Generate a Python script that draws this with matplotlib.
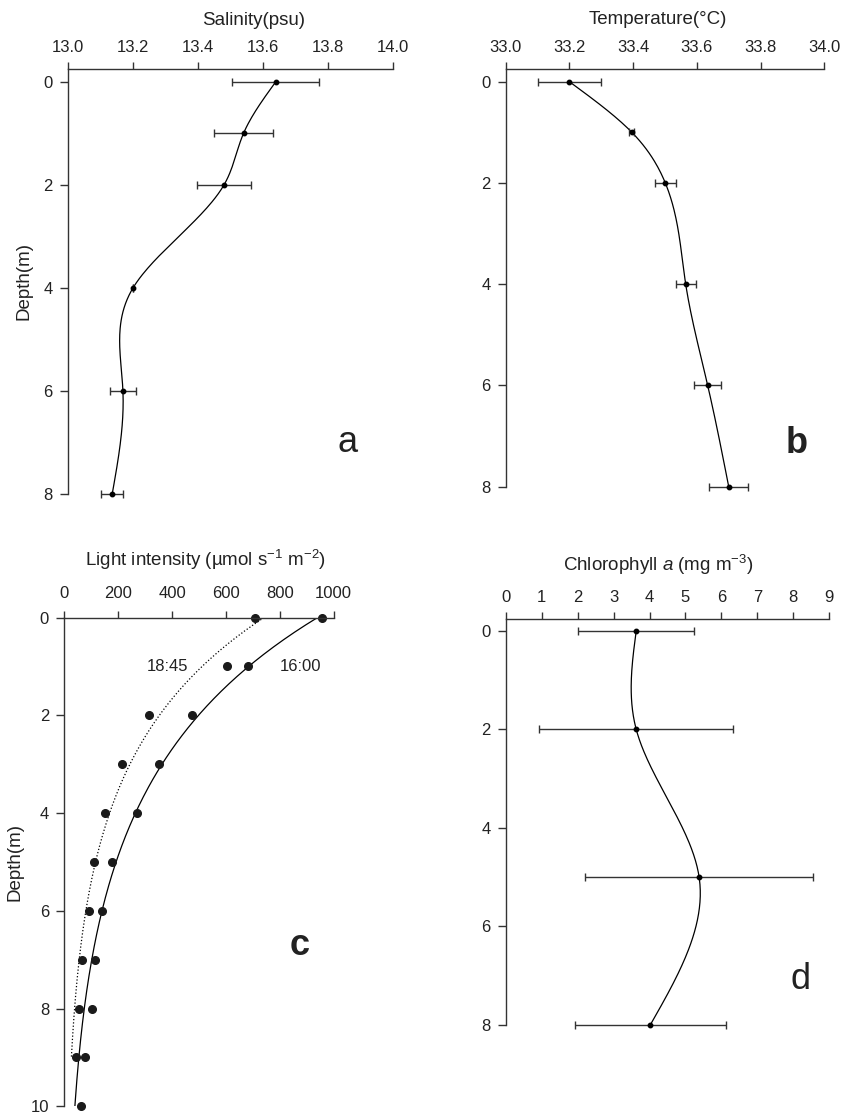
"""Depth profiles: salinity, temperature, light intensity and chlorophyll a."""

import numpy as np
import matplotlib
matplotlib.use("Agg")
import matplotlib.pyplot as plt

plt.rcParams["font.family"] = ["Liberation Sans", "DejaVu Sans"]
plt.rcParams["mathtext.fontset"] = "custom"
plt.rcParams["mathtext.rm"] = "Liberation Sans"
plt.rcParams["mathtext.it"] = "Liberation Sans:italic"

# ---- DATA ----------------------------------------------------------------
sal_depth = [0, 1, 2, 4, 6, 8]
sal_mean = [13.639, 13.540, 13.480, 13.200, 13.169, 13.136]
sal_err = [0.133, 0.090, 0.083, 0.0, 0.039, 0.033]

temp_depth = [0, 1, 2, 4, 6, 8]
temp_mean = [33.200, 33.396, 33.501, 33.565, 33.634, 33.700]
temp_err = [0.100, 0.008, 0.032, 0.032, 0.043, 0.061]

light_depth_1600 = [0, 1, 2, 3, 4, 5, 6, 7, 8, 9, 10]
light_1600 = [955, 682, 475, 350, 269, 178, 140, 114, 103, 78, 63]
light_depth_1845 = [0, 1, 2, 3, 4, 5, 6, 7, 8, 9]
light_1845 = [709, 603, 313, 213, 151, 109, 90, 67, 56, 45]

chl_depth = [0, 2, 5, 8]
chl_mean = [3.63, 3.63, 5.38, 4.02]
chl_err = [1.61, 2.70, 3.17, 2.10]

W, H = 842, 1115
INK = "#222222"
AXC = "#333333"
TICK_FS = 12
LABEL_FS = 13.5


# ---- HELPERS -------------------------------------------------------------
def natural_spline(x, y, n=200):
    """Natural cubic spline through (x, y), sampled on n points."""
    x = np.asarray(x, float)
    y = np.asarray(y, float)
    k = len(x)
    h = np.diff(x)
    A = np.zeros((k, k))
    rhs = np.zeros(k)
    A[0, 0] = A[-1, -1] = 1.0
    for i in range(1, k - 1):
        A[i, i - 1] = h[i - 1]
        A[i, i] = 2 * (h[i - 1] + h[i])
        A[i, i + 1] = h[i]
        rhs[i] = 6 * ((y[i + 1] - y[i]) / h[i] - (y[i] - y[i - 1]) / h[i - 1])
    m = np.linalg.solve(A, rhs)
    xs = np.linspace(x[0], x[-1], n)
    idx = np.clip(np.searchsorted(x, xs) - 1, 0, k - 2)
    x0, x1 = x[idx], x[idx + 1]
    hh = x1 - x0
    t0, t1 = x1 - xs, xs - x0
    ys = (m[idx] * t0 ** 3 + m[idx + 1] * t1 ** 3) / (6 * hh) \
        + (y[idx] / hh - m[idx] * hh / 6) * t0 \
        + (y[idx + 1] / hh - m[idx + 1] * hh / 6) * t1
    return xs, ys


def exp_fit(z, v):
    """Least-squares fit of v = a * exp(-k z)."""
    z = np.asarray(z, float)
    v = np.asarray(v, float)
    best = None
    for k in np.arange(0.05, 1.0, 0.0005):
        e = np.exp(-k * z)
        a = np.sum(v * e) / np.sum(e * e)
        sse = np.sum((v - a * e) ** 2)
        if best is None or sse < best[0]:
            best = (sse, a, k)
    return best[1], best[2]


def make_axes(left, right, top, bottom):
    ax = fig.add_axes([left / W, 1 - bottom / H, (right - left) / W, (bottom - top) / H])
    ax.xaxis.tick_top()
    for s in ("bottom", "right"):
        ax.spines[s].set_visible(False)
    for s in ("top", "left"):
        ax.spines[s].set_color(AXC)
        ax.spines[s].set_linewidth(1.0)
    ax.tick_params(axis="x", direction="out", length=5, width=1.0, color=AXC,
                   labelsize=TICK_FS, labelcolor=INK, pad=5)
    ax.tick_params(axis="y", direction="out", length=6, width=1.0, color=AXC,
                   labelsize=TICK_FS, labelcolor=INK, pad=5)
    return ax


def profile(ax, depth, mean, err):
    zs, xs = natural_spline(depth, mean)
    ax.plot(xs, zs, color="black", lw=0.9, clip_on=False)
    cont = ax.errorbar(mean, depth, xerr=err, fmt="o", color="black", ms=3.2,
                       ecolor="#333333", elinewidth=1.0, capsize=2.6, capthick=1.0)
    for art in cont.get_children():
        art.set_clip_on(False)


fig = plt.figure(figsize=(W / 100, H / 100), dpi=100)

# ---- a: salinity ---------------------------------------------------------
ax = make_axes(68, 393, 69, 494)
profile(ax, sal_depth, sal_mean, sal_err)
ax.set_xlim(13.0, 14.0)
ax.set_ylim(8, -0.25)
ax.set_xticks(np.arange(13.0, 14.01, 0.2))
ax.set_xticklabels([f"{v:.1f}" for v in np.arange(13.0, 14.01, 0.2)])
ax.set_yticks([0, 2, 4, 6, 8])
ax.text(0.572, 1.115, "Salinity(psu)", transform=ax.transAxes, ha="center",
        va="center", fontsize=LABEL_FS, color=INK)
ax.set_ylabel("Depth(m)", fontsize=LABEL_FS, color=INK, labelpad=8)
ax.text(13.86, 7.0, "a", ha="center", va="center", fontsize=26, color=INK)

# ---- b: temperature ------------------------------------------------------
ax = make_axes(505.7, 824.3, 69.3, 486.7)
profile(ax, temp_depth, temp_mean, temp_err)
ax.set_xlim(33.0, 34.0)
ax.set_ylim(8, -0.245)
ax.set_xticks(np.arange(33.0, 34.01, 0.2))
ax.set_xticklabels([f"{v:.1f}" for v in np.arange(33.0, 34.01, 0.2)])
ax.set_yticks([0, 2, 4, 6, 8])
ax.text(0.478, 1.12, "Temperature(°C)", transform=ax.transAxes, ha="center",
        va="center", fontsize=LABEL_FS, color=INK)
ax.text(33.913, 7.15, "b", ha="center", va="center", fontsize=26,
        fontweight="bold", color=INK)

# ---- c: light intensity --------------------------------------------------
ax = make_axes(64.3, 333.7, 617.5, 1106.3)
for z, v, ls in ((light_depth_1600, light_1600, "-"),
                 (light_depth_1845, light_1845, ":")):
    a, k = exp_fit(z, v)
    zz = np.linspace(0, max(z), 200)
    ax.plot(a * np.exp(-k * zz), zz, color="black", lw=0.9, ls=ls)
ax.plot(light_1600, light_depth_1600, "o", color="#1a1a1a", ms=5.5, clip_on=False)
ax.plot(light_1845, light_depth_1845, "o", color="#1a1a1a", ms=5.5, clip_on=False)
ax.set_xlim(0, 1000)
ax.set_ylim(10, 0)
ax.set_xticks(range(0, 1001, 200))
ax.set_yticks(range(0, 11, 2))
ax.tick_params(axis="x", pad=7)
ax.text(0.525, 1.117, "Light intensity (\u00b5mol s$^{-1}$ m$^{-2}$)",
        transform=ax.transAxes, ha="center", va="center", fontsize=LABEL_FS, color=INK)
ax.set_ylabel("Depth(m)", fontsize=LABEL_FS, color=INK, labelpad=5)
ax.text(384, 1.0, "18:45", ha="center", va="center", fontsize=TICK_FS, color=INK)
ax.text(875, 1.0, "16:00", ha="center", va="center", fontsize=TICK_FS, color=INK)
ax.text(875, 6.71, "c", ha="center", va="center", fontsize=26,
        fontweight="bold", color=INK)

# ---- d: chlorophyll a ----------------------------------------------------
ax = make_axes(505.7, 829.3, 619, 1025)
profile(ax, chl_depth, chl_mean, chl_err)
ax.set_xlim(0, 9)
ax.set_ylim(8, -0.24)
ax.set_xticks(range(0, 10))
ax.set_yticks([0, 2, 4, 6, 8])
ax.text(0.471, 1.134, r"Chlorophyll $\mathit{a}$ (mg m$^{-3}$)",
        transform=ax.transAxes, ha="center", va="center", fontsize=LABEL_FS, color=INK)
ax.text(8.2, 7.07, "d", ha="center", va="center", fontsize=26, color=INK)

fig.savefig("out.png", dpi=100)
